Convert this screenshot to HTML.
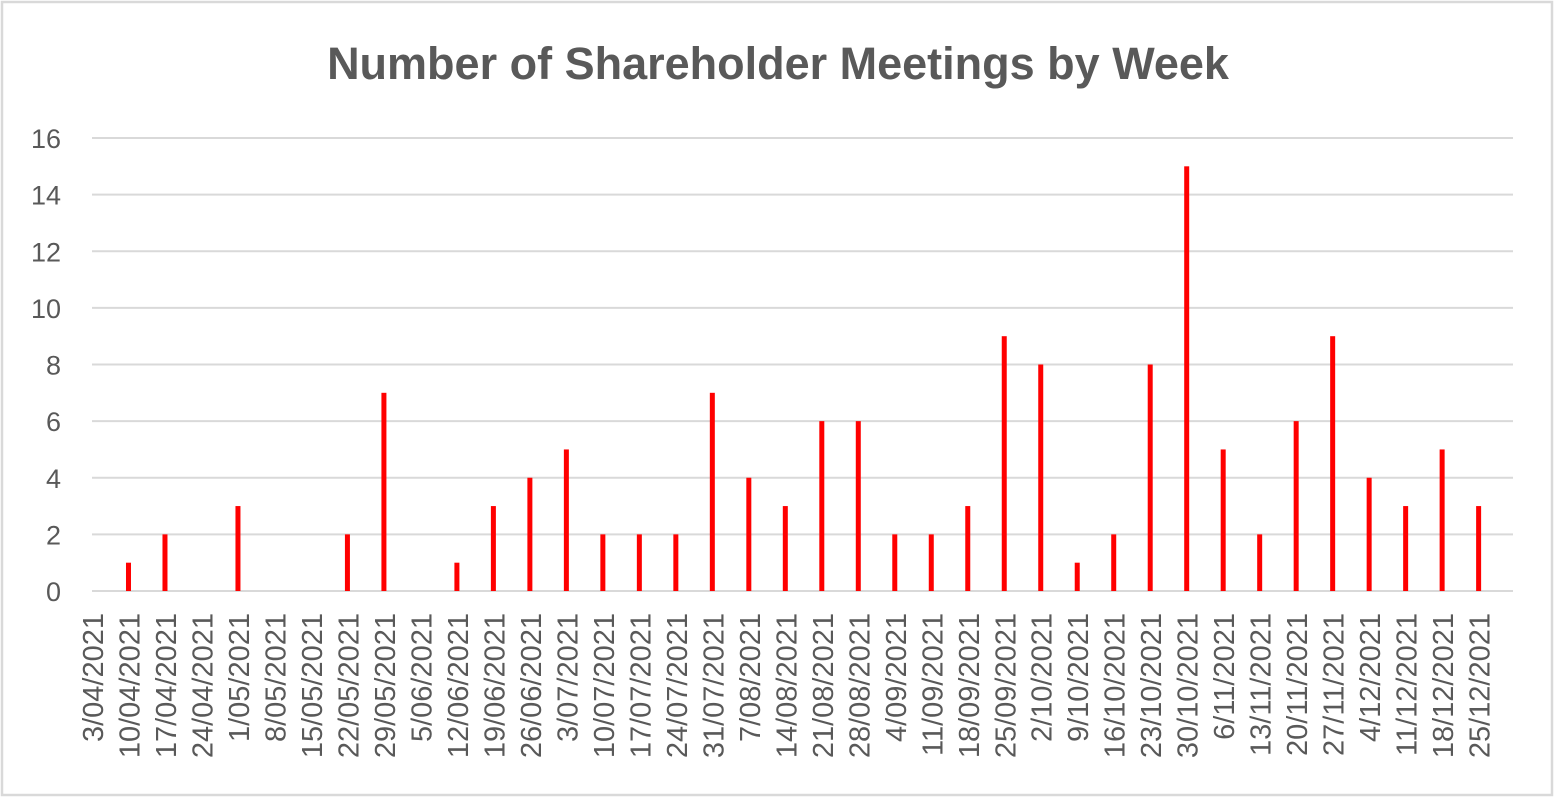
<!DOCTYPE html>
<html><head><meta charset="utf-8"><style>
html,body{margin:0;padding:0;background:#fff;}
svg{display:block;}
text{font-family:"Liberation Sans",sans-serif;fill:#595959;}
</style></head><body>
<svg width="1555" height="798" xmlns="http://www.w3.org/2000/svg">
<rect x="2" y="2" width="1550" height="793" fill="#fff" stroke="#d9d9d9" stroke-width="2.5"/>
<text x="778" y="79" text-anchor="middle" font-size="45" font-weight="bold">Number of Shareholder Meetings by Week</text>
<g id="grid" stroke="#d9d9d9" stroke-width="2"></g>
<g id="ylab" font-size="27" text-anchor="end"></g>
<g id="bars" fill="#ff0000"></g>
<g id="xlab" font-size="29" text-anchor="end"></g>
<script>
var ns="http://www.w3.org/2000/svg";
function el(t,a,p,txt){var e=document.createElementNS(ns,t);for(var k in a)e.setAttribute(k,a[k]);if(txt!=null)e.textContent=txt;document.getElementById(p).appendChild(e);}
var y0=591,u=28.3125;
for(var v=0;v<=16;v+=2){var y=y0-v*u;el('line',{x1:92,x2:1513,y1:y,y2:y},'grid');el('text',{x:61,y:y+10},'ylab',v);}
var vals=[0,1,2,0,3,0,0,2,7,0,1,3,4,5,2,2,2,7,4,3,6,6,2,2,3,9,8,1,2,8,15,5,2,6,9,4,3,5,3];
var start=new Date(2021,3,3);
for(var i=0;i<39;i++){var x=92+i*36.49;
 if(vals[i]>0)el('rect',{x:x-2.5,y:y0-vals[i]*u,width:5,height:vals[i]*u},'bars');
 var d=new Date(start.getTime()+i*7*86400000+3600000*12);
 var s=d.getDate()+'/'+('0'+(d.getMonth()+1)).slice(-2)+'/2021';
 el('text',{x:0,y:0,transform:'translate('+(x+11)+',613) rotate(-90)'},'xlab',s);}
</script>
</svg>
</body></html>
